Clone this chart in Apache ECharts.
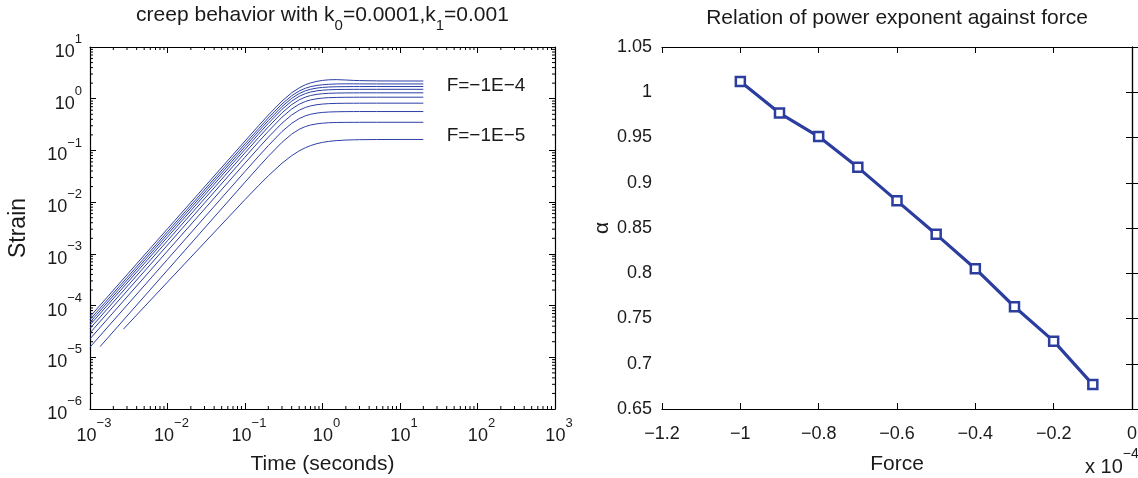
<!DOCTYPE html>
<html><head><meta charset="utf-8">
<script src="https://cdn.jsdelivr.net/npm/echarts@6/dist/echarts.min.js"></script>
<style>html,body{margin:0;padding:0;background:#fff}#c{width:1138px;height:478px}</style>
</head><body><div id="c"></div>
<script>
// ---------- Left panel data (creep curves, strain vs time) ----------
const creepTime   = [0.001,   0.01, 0.1, 0.15, 0.2, 0.3, 0.4, 0.5, 0.6, 0.7, 0.85, 1, 1.2, 1.5, 2, 2.5, 3, 5, 10, 20];
const creepTimeF2 = [0.00135, 0.01, 0.1, 0.15, 0.2, 0.3, 0.4, 0.5, 0.6, 0.7, 0.85, 1, 1.2, 1.5, 2, 2.5, 3, 5, 10, 20];
const creepTimeF1 = [0.0027,  0.01, 0.1, 0.15, 0.2, 0.3, 0.4, 0.5, 0.6, 0.7, 0.85, 1, 1.2, 1.5, 2, 2.5, 3, 5, 10, 20];

const strainF10 = [6.1e-5, 3.05e-3, 0.152, 0.301, 0.484, 0.90, 1.30, 1.62, 1.86, 2.02, 2.17, 2.26, 2.32, 2.34, 2.30, 2.26, 2.24, 2.21, 2.2, 2.2];
const strainF9  = [5.35e-5, 2.68e-3, 0.134, 0.264, 0.425, 0.791, 1.14, 1.41, 1.59, 1.71, 1.81, 1.86, 1.90, 1.93, 1.94, 1.94, 1.935, 1.93, 1.93, 1.93];
const strainF8  = [4.76e-5, 2.39e-3, 0.119, 0.236, 0.378, 0.705, 1.017, 1.257, 1.419, 1.522, 1.608, 1.653, 1.684, 1.703, 1.713, 1.717, 1.718, 1.72, 1.72, 1.72];
const strainF7  = [4.21e-5, 2.11e-3, 0.105, 0.208, 0.334, 0.623, 0.898, 1.111, 1.254, 1.345, 1.421, 1.461, 1.488, 1.505, 1.514, 1.517, 1.518, 1.52, 1.52, 1.52];
const strainF6  = [3.60e-5, 1.80e-3, 0.0901, 0.178, 0.286, 0.533, 0.768, 0.950, 1.073, 1.151, 1.216, 1.249, 1.273, 1.287, 1.295, 1.297, 1.299, 1.3, 1.3, 1.3];
const strainF5  = [2.96e-5, 1.48e-3, 0.0742, 0.147, 0.235, 0.439, 0.632, 0.782, 0.883, 0.947, 1.0, 1.028, 1.048, 1.059, 1.066, 1.068, 1.069, 1.07, 1.07, 1.07];
const strainF4  = [2.27e-5, 1.137e-3, 0.0568, 0.112, 0.180, 0.336, 0.485, 0.599, 0.677, 0.726, 0.767, 0.788, 0.803, 0.812, 0.817, 0.818, 0.819, 0.82, 0.82, 0.82];
const strainF3  = [1.57e-5, 7.84e-4, 0.0392, 0.0774, 0.124, 0.232, 0.334, 0.413, 0.466, 0.500, 0.528, 0.543, 0.553, 0.559, 0.563, 0.564, 0.565, 0.565, 0.565, 0.565];
const strainF2  = [1.61e-5, 4.85e-4, 0.0243, 0.048, 0.077, 0.1435, 0.207, 0.256, 0.289, 0.310, 0.327, 0.336, 0.343, 0.347, 0.349, 0.349, 0.35, 0.35, 0.35, 0.35];
const strainF1  = [3.5e-5, 2.85e-4, 0.0112, 0.021, 0.0323, 0.0565, 0.0791, 0.098, 0.1127, 0.1239, 0.1355, 0.143, 0.1494, 0.1546, 0.1587, 0.1604, 0.1613, 0.1625, 0.163, 0.163];

const creepLabels = ['F=\u22121E\u22124', 'F=\u22121E\u22125'];

// ---------- Right panel data (power exponent vs force, force in units of 1e-4) ----------
const forceScaled = [-1, -0.9, -0.8, -0.7, -0.6, -0.5, -0.4, -0.3, -0.2, -0.1];
const alphaValues = [1.012, 0.977, 0.951, 0.917, 0.880, 0.843, 0.805, 0.763, 0.725, 0.677];

// ---------- styling ----------
const FONT = '"Liberation Sans", Arial, Helvetica, sans-serif';
const TXT = '#1a1a1a';
const LINE_BLUE = '#2c3fa6';
const MARK_BLUE = '#2b3d9e';

const G1 = {left: 90, top: 47, width: 465, height: 362};
const G2 = {left: 662, top: 47, width: 470, height: 362};

function sup(exp) { return exp < 0 ? '\u2212' + (-exp) : String(exp); }
function logLabel(v) {
  const e = Math.round(Math.log10(v));
  return '{b|10}{s|' + sup(e) + '}';
}
const logRichX = {
  b: {fontSize: 18, fontFamily: FONT, color: TXT, lineHeight: 28, verticalAlign: 'bottom', padding: [0, 0, 0, 8]},
  s: {fontSize: 13, fontFamily: FONT, color: TXT, lineHeight: 16, verticalAlign: 'top'}
};
const logRichY = {
  b: {fontSize: 18, fontFamily: FONT, color: TXT, lineHeight: 28, verticalAlign: 'bottom'},
  s: {fontSize: 13, fontFamily: FONT, color: TXT, lineHeight: 16, verticalAlign: 'top'}
};

const chart = echarts.init(document.getElementById('c'), null, {renderer: 'canvas'});

const creepSets = [
  [creepTimeF1, strainF1], [creepTimeF2, strainF2], [creepTime, strainF3], [creepTime, strainF4],
  [creepTime, strainF5], [creepTime, strainF6], [creepTime, strainF7], [creepTime, strainF8],
  [creepTime, strainF9], [creepTime, strainF10]
];
const creepSeries = creepSets.map((s) => ({
  type: 'line', xAxisIndex: 0, yAxisIndex: 0,
  data: s[0].map((t, j) => [t, s[1][j]]),
  showSymbol: false, smooth: false,
  lineStyle: {color: LINE_BLUE, width: 1}, silent: true, animation: false, z: 3
}));

const axisLine = {show: true, lineStyle: {color: '#000', width: 1.2}};
const tick = {inside: true, length: 6, lineStyle: {color: '#000'}};

const option = {
  animation: false,
  grid: [
    Object.assign({show: false, containLabel: false, outerBoundsMode: 'none'}, G1),
    Object.assign({show: false, containLabel: false, outerBoundsMode: 'none'}, G2)
  ],
  xAxis: [
    { type: 'log', gridIndex: 0, min: 1e-3, max: 1e3, logBase: 10, position: 'bottom',
      axisLine, axisTick: tick,
      axisLabel: {formatter: logLabel, rich: logRichX, margin: 8},
      splitLine: {show: false},
      name: 'Time (seconds)', nameLocation: 'middle', nameGap: 45,
      nameTextStyle: {fontSize: 21, fontFamily: FONT, color: TXT} },
    { type: 'log', gridIndex: 0, min: 1e-3, max: 1e3, logBase: 10, position: 'top',
      axisLine, axisTick: tick, axisLabel: {show: false}, splitLine: {show: false} },
    { type: 'value', gridIndex: 1, min: -1.2, max: 0, interval: 0.2, position: 'bottom',
      axisLine, axisTick: tick,
      axisLabel: {fontSize: 18, fontFamily: FONT, color: TXT, margin: 16,
        formatter: v => Math.abs(v) < 1e-9 ? '0' : '\u2212' + (+Math.abs(v).toFixed(1))},
      splitLine: {show: false},
      name: 'Force', nameLocation: 'middle', nameGap: 45,
      nameTextStyle: {fontSize: 21, fontFamily: FONT, color: TXT} },
    { type: 'value', gridIndex: 1, min: -1.2, max: 0, interval: 0.2, position: 'top',
      axisLine, axisTick: tick, axisLabel: {show: false}, splitLine: {show: false} }
  ],
  yAxis: [
    { type: 'log', gridIndex: 0, min: 1e-6, max: 10, logBase: 10, position: 'left',
      axisLine, axisTick: tick,
      axisLabel: {formatter: logLabel, rich: logRichY, margin: 8},
      splitLine: {show: false},
      name: 'Strain', nameLocation: 'middle', nameGap: 60, nameRotate: 90,
      nameTextStyle: {fontSize: 23, fontFamily: FONT, color: TXT} },
    { type: 'log', gridIndex: 0, min: 1e-6, max: 10, logBase: 10, position: 'right',
      axisLine, axisTick: tick, axisLabel: {show: false}, splitLine: {show: false} },
    { type: 'value', gridIndex: 1, min: 0.65, max: 1.05, interval: 0.05, position: 'left',
      axisLine, axisTick: tick,
      axisLabel: {fontSize: 18, fontFamily: FONT, color: TXT, margin: 10,
        formatter: v => String(+v.toFixed(2))},
      splitLine: {show: false},
      name: '\u03b1', nameLocation: 'middle', nameGap: 49, nameRotate: 90,
      nameTextStyle: {fontSize: 21, fontFamily: FONT, color: TXT} },
    { type: 'value', gridIndex: 1, min: 0.65, max: 1.05, interval: 0.05, position: 'right',
      axisLine, axisTick: tick, axisLabel: {show: false}, splitLine: {show: false} }
  ],
  series: creepSeries.concat([{
    type: 'line', xAxisIndex: 2, yAxisIndex: 2,
    data: forceScaled.map((f, i) => [f, alphaValues[i]]),
    symbol: 'rect', symbolSize: 9, showSymbol: true,
    lineStyle: {color: MARK_BLUE, width: 3.2},
    itemStyle: {color: '#fff', borderColor: MARK_BLUE, borderWidth: 2.5},
    silent: true, animation: false, z: 3
  }])
};
chart.setOption(option);

// ---------- decorations: titles, annotations, minor log ticks ----------
function minorTicks() {
  const els = [];
  const tl = 3;
  const st = {stroke: '#000', lineWidth: 1};
  const xL = chart.convertToPixel({xAxisIndex: 0}, 1e-3);
  const xR = chart.convertToPixel({xAxisIndex: 0}, 1e3);
  const yB = chart.convertToPixel({yAxisIndex: 0}, 1e-6);
  const yT = chart.convertToPixel({yAxisIndex: 0}, 10);
  for (let e = -3; e < 3; e++) {
    for (let m = 2; m <= 9; m++) {
      const x = chart.convertToPixel({xAxisIndex: 0}, m * Math.pow(10, e));
      els.push({type: 'line', silent: true, shape: {x1: x, y1: yB, x2: x, y2: yB - tl}, style: st});
      els.push({type: 'line', silent: true, shape: {x1: x, y1: yT, x2: x, y2: yT + tl}, style: st});
    }
  }
  for (let e = -6; e < 1; e++) {
    for (let m = 2; m <= 9; m++) {
      const y = chart.convertToPixel({yAxisIndex: 0}, m * Math.pow(10, e));
      els.push({type: 'line', silent: true, shape: {x1: xL, y1: y, x2: xL + tl, y2: y}, style: st});
      els.push({type: 'line', silent: true, shape: {x1: xR, y1: y, x2: xR - tl, y2: y}, style: st});
    }
  }
  return els;
}

const labelX = chart.convertToPixel({xAxisIndex: 0}, 40);
const labelY1 = chart.convertToPixel({yAxisIndex: 0}, 1.8);
const labelY2 = chart.convertToPixel({yAxisIndex: 0}, 0.19);

chart.setOption({
  graphic: [
    { type: 'text', silent: true, x: G1.left + G1.width / 2, y: 19,
      style: { text: '{t|creep behavior with k}{u|0}{t|=0.0001,k}{u|1}{t|=0.001}',
        align: 'center', verticalAlign: 'middle',
        rich: { t: {fontSize: 21, fontFamily: FONT, fill: TXT, lineHeight: 28, verticalAlign: 'top'},
                u: {fontSize: 15, fontFamily: FONT, fill: TXT, lineHeight: 17, verticalAlign: 'bottom'} } } },
    { type: 'text', silent: true, x: G2.left + G2.width / 2, y: 18,
      style: { text: 'Relation of power exponent against force', align: 'center', verticalAlign: 'middle',
        fontSize: 21, fontFamily: FONT, fill: TXT } },
    { type: 'text', silent: true, x: labelX, y: labelY1,
      style: { text: creepLabels[0], align: 'left', verticalAlign: 'middle', fontSize: 19, fontFamily: FONT, fill: TXT } },
    { type: 'text', silent: true, x: labelX, y: labelY2,
      style: { text: creepLabels[1], align: 'left', verticalAlign: 'middle', fontSize: 19, fontFamily: FONT, fill: TXT } },
    { type: 'text', silent: true, x: 1085, y: 462,
      style: { text: '{b|x 10}{s|\u22124}', align: 'left', verticalAlign: 'middle',
        rich: { b: {fontSize: 20, fontFamily: FONT, fill: TXT, lineHeight: 30, verticalAlign: 'bottom'},
                s: {fontSize: 14, fontFamily: FONT, fill: TXT, lineHeight: 16, verticalAlign: 'top'} } } }
  ].concat(minorTicks())
});
</script>
</body></html>
